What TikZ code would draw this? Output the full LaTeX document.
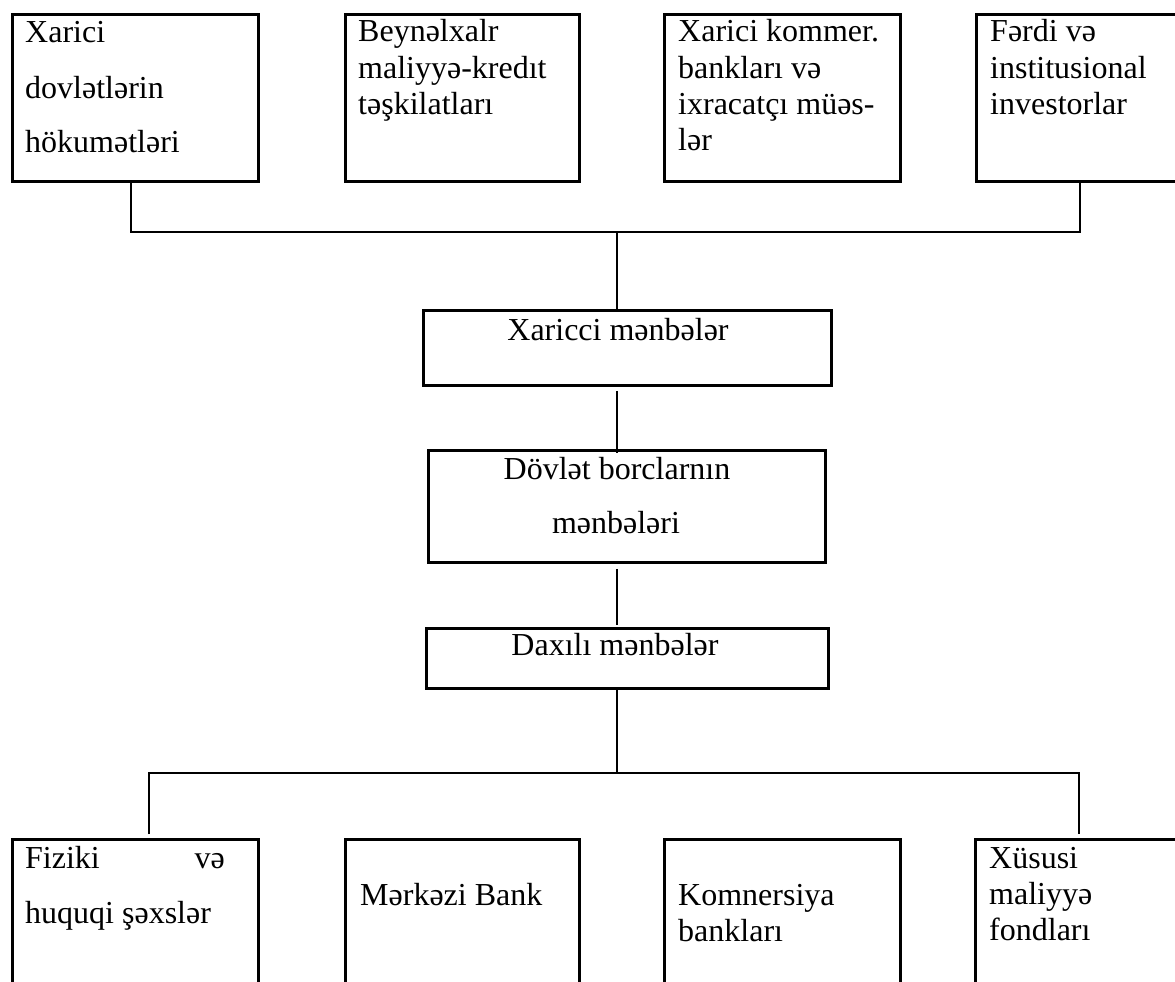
\documentclass[tikz,border=0pt]{standalone}
\usepackage{fontspec}
\setmainfont{Liberation Serif}
\usetikzlibrary{calc}
\begin{document}
\begin{tikzpicture}[x=1pt,y=-1pt,
  box/.style={draw, line width=2.8pt, rectangle, anchor=north west, inner sep=0pt},
  conn/.style={line width=2pt},
  txt/.style={anchor=base west, inner sep=0pt, font=\fontsize{32}{36}\selectfont},
  rtxt/.style={anchor=base east, inner sep=0pt, font=\fontsize{32}{36}\selectfont},
  ctxt/.style={anchor=base, inner sep=0pt, font=\fontsize{32}{36}\selectfont}]
\path[use as bounding box, clip] (0,0) rectangle (1175,982);
% top boxes
\node[box, minimum width=246pt, minimum height=167pt] (t1) at (11,13) {};
\node[box, minimum width=234pt, minimum height=167pt] (t2) at (344,13) {};
\node[box, minimum width=236pt, minimum height=167pt] (t3) at (663,13) {};
\node[box, minimum width=230pt, minimum height=167pt] (t4) at (975,13) {};
% middle boxes
\node[box, minimum width=408pt, minimum height=75pt] (xm) at (422,309) {};
\node[box, minimum width=397pt, minimum height=112pt] (db) at (427,449) {};
\node[box, minimum width=402pt, minimum height=60pt] (dx) at (425,627) {};
% bottom boxes
\node[box, minimum width=246pt, minimum height=170pt] (b1) at (11,838) {};
\node[box, minimum width=234pt, minimum height=170pt] (b2) at (344,838) {};
\node[box, minimum width=236pt, minimum height=170pt] (b3) at (663,838) {};
\node[box, minimum width=230pt, minimum height=170pt] (b4) at (974,838) {};
% texts top
\node[txt] (t1a) at (25,43) {Xarici};
\node[txt] (t1b) at (25,98) {dovlətlərin};
\node[txt] (t1c) at (25,152) {hökumətləri};
\node[txt] (t2a) at (358,42) {Beynəlxalr};
\node[txt] (t2b) at (358,78) {maliyyə-kredıt};
\node[txt] (t2c) at (358,114) {təşkilatları};
\node[txt] (t3a) at (678,42) {Xarici kommer.};
\node[txt] (t3b) at (678,78) {bankları və};
\node[txt] (t3c) at (678,114) {ixracatçı müəs-};
\node[txt] (t3d) at (678,150) {lər};
\node[txt] (t4a) at (990,42) {Fərdi və};
\node[txt] (t4b) at (990,78) {institusional};
\node[txt] (t4c) at (990,114) {investorlar};
% texts middle
\node[ctxt] (xma) at (618,340) {Xaricci mənbələr};
\node[ctxt] (dba) at (617,479) {Dövlət borclarnın};
\node[ctxt] (dbb) at (616,533) {mənbələri};
\node[ctxt] (dxa) at (615,655) {Daxılı mənbələr};
% texts bottom
\node[txt] (b1a) at (25,868) {Fiziki};
\node[rtxt] (b1b) at (225,868) {və};
\node[txt] (b1c) at (25,923) {huquqi şəxslər};
\node[txt] (b2a) at (360,905) {Mərkəzi Bank};
\node[txt] (b3a) at (678,905) {Komnersiya};
\node[txt] (b3b) at (678,941) {bankları};
\node[txt] (b4a) at (989,868) {Xüsusi};
\node[txt] (b4b) at (989,904) {maliyyə};
\node[txt] (b4c) at (989,940) {fondları};
% connectors
\coordinate (jt) at (617,232);
\coordinate (jb) at (617,773);
\draw[conn] ($(t1.south)+(-4,0)$) |- (jt) -| ($(t4.south)+(-11,0)$);
\draw[conn] (jt) -- (jt |- xm.north);
\draw[conn] ($(jt |- xm.south)+(0,4)$) -- ($(jt |- db.north)+(0,4)$);
\draw[conn] ($(jt |- db.south)+(0,5)$) -- ($(jt |- dx.north)+(0,-2)$);
\draw[conn] (jt |- dx.south) -- (jb);
\draw[conn] ($(b1.north)+(14,-4)$) |- (jb) -| ($(b4.north)+(-11,-4)$);
\end{tikzpicture}
\end{document}
